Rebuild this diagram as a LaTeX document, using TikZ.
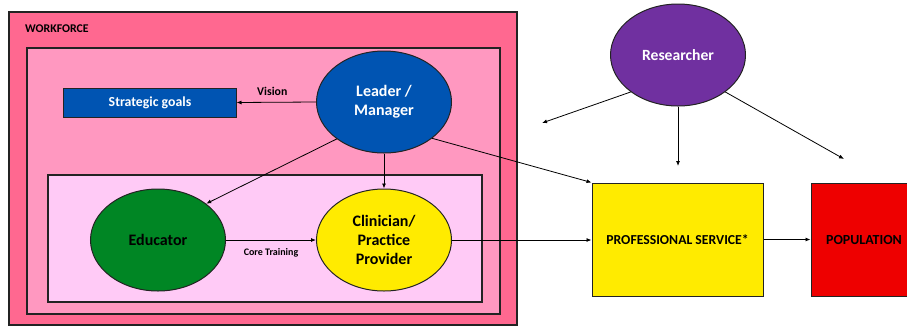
\documentclass[tikz,border=0pt]{standalone}
\usepackage{fontspec}
\setmainfont{Carlito}
\usetikzlibrary{shapes.geometric,arrows.meta}
\definecolor{outerpink}{RGB}{255,104,144}
\definecolor{midpink}{RGB}{255,152,192}
\definecolor{innerpink}{RGB}{255,202,246}
\definecolor{bblue}{RGB}{0,84,178}
\definecolor{bgreen}{RGB}{0,134,36}
\definecolor{byellow}{RGB}{255,235,0}
\definecolor{bpurple}{RGB}{112,48,160}
\definecolor{bred}{RGB}{238,0,0}
\definecolor{edge}{RGB}{35,35,35}
\tikzset{
  frame/.style={draw=edge, line width=1.2bp},
  oval/.style={ellipse, draw=edge, line width=1bp, minimum width=135bp, minimum height=102bp, inner sep=0pt, align=center, font=\fontsize{16bp}{19bp}\selectfont\bfseries},
  boxnode/.style={rectangle, draw=edge, line width=1bp, inner sep=0pt, align=center},
  conn/.style={draw=black, line width=0.8bp, -{Latex[length=5bp,width=4bp]}},
  smalllabel/.style={font=\fontsize{11.8bp}{14bp}\selectfont\bfseries, inner sep=0pt}
}
\begin{document}
\begin{tikzpicture}[x=1bp,y=-1bp]
\useasboundingbox (0,0) rectangle (907,329);
% frames
\draw[frame, fill=outerpink] (9,12) rectangle (517,325);
\draw[frame, fill=midpink] (27,48) rectangle (500,314);
\draw[frame, fill=innerpink] (48,175) rectangle (482,302);
\node[smalllabel, anchor=west] (wf) at (25,29) {WORKFORCE};
% nodes
\node[boxnode, fill=bblue, text=white, minimum width=172bp, minimum height=29bp, font=\fontsize{13.8bp}{16bp}\selectfont\bfseries] (goals) at (150,102.5) {Strategic goals};
\node[oval, fill=bblue, text=white] (leader) at (384,102) {Leader /\\Manager};
\node[oval, fill=bgreen, text=black] (educator) at (158,240) {Educator};
\node[oval, fill=byellow, text=black] (clin) at (384,240) {Clinician/\\Practice\\Provider};
\node[oval, fill=bpurple, text=white, font=\fontsize{15.6bp}{18bp}\selectfont\bfseries] (res) at (678,55) {Researcher};
\node[boxnode, fill=byellow, minimum width=171bp, minimum height=113bp, font=\fontsize{13.7bp}{16bp}\selectfont\bfseries] (prof) at (677.5,239.5) {PROFESSIONAL SERVICE*};
\node[boxnode, fill=bred, minimum width=106bp, minimum height=113bp, font=\fontsize{13.9bp}{16bp}\selectfont\bfseries] (pop) at (864,239.5) {POPULATION};
% free ends
\coordinate (r1) at (542,123);
\coordinate (r2) at (678,166);
\coordinate (r3) at (844,159);
% connectors
\draw[conn] (leader.west) -- node[smalllabel, above=6bp, pos=0.55] {Vision} (goals.east);
\draw[conn] (leader.218) -- (educator.37);
\draw[conn] (leader.south) -- (clin.north);
\draw[conn] (leader.323) -- (prof.north west);
\draw[conn] (educator.east) -- node[below=8bp, inner sep=0pt, font=\fontsize{10bp}{12bp}\selectfont\bfseries] {Core Training} (clin.west);
\draw[conn] (clin.east) -- (clin.east -| prof.west);
\draw[conn] (prof.east) -- (prof.east -| pop.west);
\draw[conn] (res.218) -- (r1);
\draw[conn] (res.south) -- (r2);
\draw[conn] (res.322) -- (r3);
\end{tikzpicture}
\end{document}
